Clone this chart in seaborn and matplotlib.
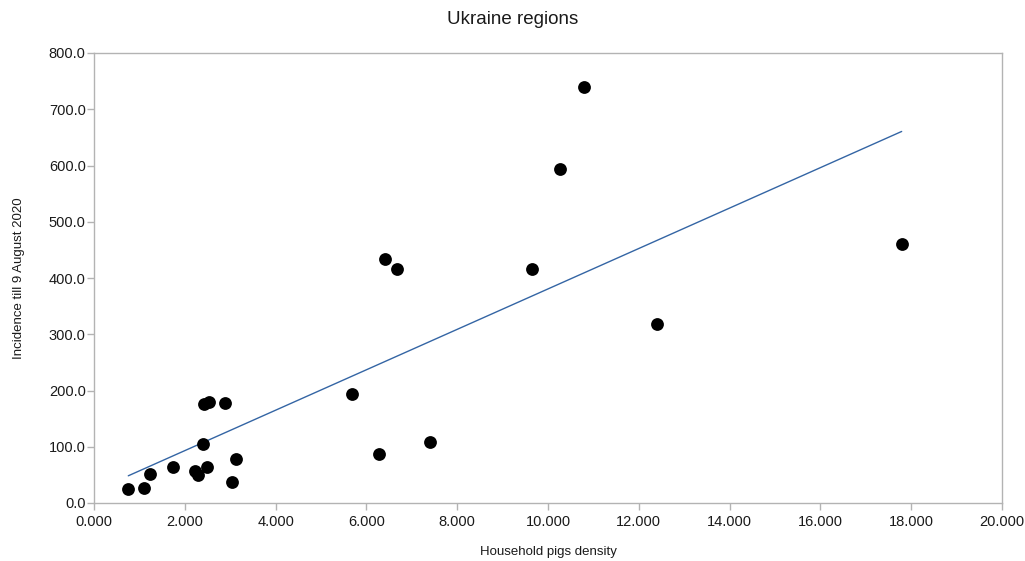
import numpy as np
import pandas as pd
import matplotlib
matplotlib.use("Agg")
import matplotlib.pyplot as plt
import seaborn as sns
from matplotlib.ticker import FormatStrFormatter, MultipleLocator

# household pigs density per region
density = [0.755, 1.108, 1.233, 1.747, 2.225, 2.297, 2.496, 3.046, 3.128,
           2.394, 2.423, 2.540, 2.885, 6.41, 6.667, 9.648, 5.676, 6.284,
           7.40, 10.79, 10.27, 12.39, 17.79]
# incidence till 9 August 2020
incidence = [24.4, 27.2, 52.1, 63.5, 56.9, 49.8, 63.5, 36.8, 78.2,
             104.4, 176.0, 180.0, 178.3, 433.2, 416.0, 416.0, 193.8, 87.1,
             108.4, 740.0, 593.8, 317.7, 461.0]

df = pd.DataFrame({"density": density, "incidence": incidence})

sns.set_theme(style="white")
plt.rcParams["font.family"] = ["Liberation Sans", "DejaVu Sans"]

fig = plt.figure(figsize=(10.25, 5.61), dpi=100)
ax = fig.add_axes([94 / 1025, 58 / 561, 908 / 1025, 450 / 561])

sns.regplot(data=df, x="density", y="incidence", ax=ax, ci=None,
            scatter_kws={"s": 85, "color": "black", "edgecolor": "black",
                         "linewidths": 0, "alpha": 1, "zorder": 3},
            line_kws={"color": "#3465a4", "linewidth": 1.0, "zorder": 2})

ax.set_xlim(0, 20)
ax.set_ylim(0, 800)
ax.xaxis.set_major_locator(MultipleLocator(2))
ax.yaxis.set_major_locator(MultipleLocator(100))
ax.xaxis.set_major_formatter(FormatStrFormatter("%.3f"))
ax.yaxis.set_major_formatter(FormatStrFormatter("%.1f"))

for sp in ax.spines.values():
    sp.set_color("#b3b3b3")
    sp.set_linewidth(1.0)
ax.tick_params(axis="both", which="major", bottom=True, left=True,
               length=5, width=1, color="#b3b3b3", labelsize=10.5,
               labelcolor="#1a1a1a")
ax.tick_params(axis="y", pad=1)
ax.tick_params(axis="x", pad=4)
ax.grid(False)

ax.set_xlabel("Household pigs density", fontsize=9.5, color="#1a1a1a", labelpad=12)
ax.set_ylabel("Incidence till 9 August 2020", fontsize=9.5, color="#1a1a1a", labelpad=17)
fig.text(0.5, 1 - 19 / 561, "Ukraine regions", ha="center", va="center",
         fontsize=13.5, color="#1a1a1a")

fig.savefig("out.png", dpi=100)
